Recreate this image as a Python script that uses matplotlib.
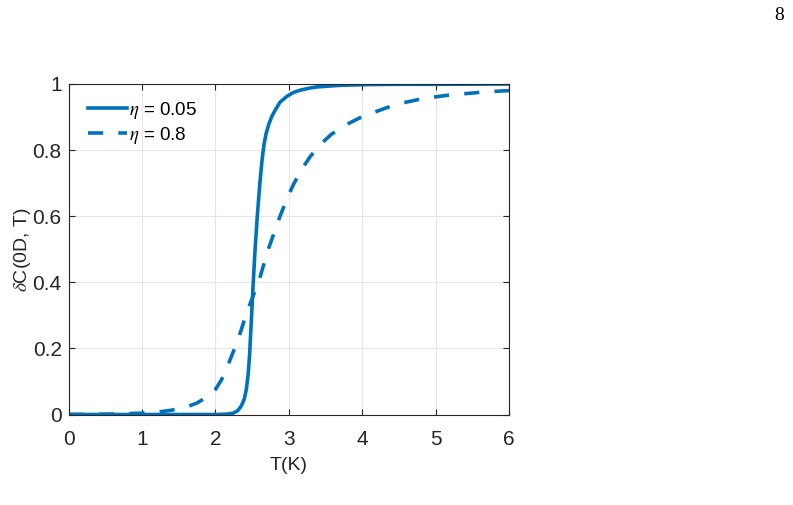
import numpy as np
import matplotlib.pyplot as plt

# values
T_sharp = [0.0, 1.0, 2.0, 2.15, 2.24, 2.30, 2.35, 2.39, 2.42, 2.445, 2.465, 2.48,
           2.495, 2.515, 2.54, 2.57, 2.605, 2.635, 2.66, 2.69, 2.73, 2.77, 2.83,
           2.88, 2.97, 3.06, 3.15, 3.29, 3.38, 3.70, 4.06, 4.5, 5.0, 6.0]
C_sharp = [0.0, 0.0, 0.0, 0.001, 0.004, 0.011, 0.025, 0.045, 0.075, 0.12, 0.18, 0.245,
           0.31, 0.4, 0.5, 0.6, 0.7, 0.77, 0.815, 0.85, 0.88, 0.903, 0.927, 0.945,
           0.962, 0.974, 0.981, 0.988, 0.991, 0.996, 0.998, 0.999, 0.999, 1.0]

T_broad = [0.0, 0.5, 1.0, 1.2, 1.4, 1.6, 1.75, 1.9, 2.0, 2.08, 2.18, 2.27, 2.35, 2.42,
           2.51, 2.60, 2.66, 2.72, 2.80, 2.88, 2.97, 3.06, 3.17, 3.29, 3.42, 3.58,
           3.79, 3.97, 4.17, 4.38, 4.6, 4.81, 5.03, 5.24, 5.47, 5.67, 6.0]
C_broad = [0.0, 0.001, 0.004, 0.007, 0.013, 0.022, 0.035, 0.055, 0.076, 0.104, 0.155,
           0.205, 0.255, 0.305, 0.357, 0.41, 0.455, 0.50, 0.55, 0.60, 0.65, 0.695,
           0.74, 0.78, 0.815, 0.848, 0.878, 0.898, 0.915, 0.932, 0.945, 0.955, 0.962,
           0.968, 0.972, 0.976, 0.98]

blue = '#0072BD'
dark = '#262626'

plt.rcParams['font.family'] = ['Liberation Sans', 'DejaVu Sans']
plt.rcParams['mathtext.fontset'] = 'stix'

fig = plt.figure(figsize=(7.93, 5.05), dpi=100)
ax = fig.add_axes([0.0866, 0.1792, 0.5553, 0.6545])

ax.plot(T_sharp, C_sharp, color=blue, lw=2.6, solid_joinstyle='round',
        label=r'$\eta$ = 0.05')
ax.plot(T_broad, C_broad, color=blue, lw=2.6, linestyle=(0, (4.2, 4.2)),
        label=r'$\eta$ = 0.8')

ax.set_xlim(0, 6)
ax.set_ylim(0, 1)
ax.set_xticks([0, 1, 2, 3, 4, 5, 6])
ax.set_yticks([0, 0.2, 0.4, 0.6, 0.8, 1])
ax.set_yticklabels(['0', '0.2', '0.4', '0.6', '0.8', '1'])
ax.grid(True, color='#e6e6e6', lw=0.8)
ax.set_axisbelow(True)

for s in ax.spines.values():
    s.set_color(dark)
    s.set_linewidth(0.8)
ax.tick_params(direction='in', top=True, right=True, length=4, width=0.8,
               colors=dark, labelsize=15)
ax.tick_params(axis='x', pad=11)
ax.tick_params(axis='y', pad=5)

ax.set_xlabel('T(K)', fontsize=14, color=dark, labelpad=6)
ax.set_ylabel(r'$\delta$C(0D, T)', fontsize=14, color=dark, labelpad=0)

leg = ax.legend(loc='upper left', bbox_to_anchor=(0.027, 0.975), frameon=False,
                fontsize=13.5, handlelength=2.1, handletextpad=0.1,
                borderaxespad=0, borderpad=0.4, labelspacing=0.23)

fig.text(0.989, 0.9604, '8', fontsize=14, family='Liberation Serif',
         ha='right', va='baseline')

fig.savefig('out.png', dpi=100)
